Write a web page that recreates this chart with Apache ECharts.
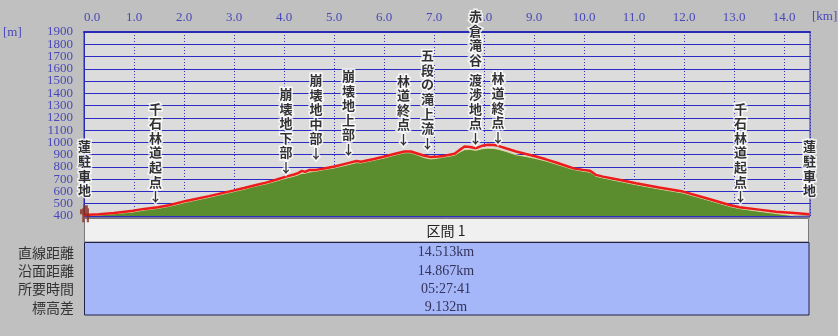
<!DOCTYPE html>
<html><head><meta charset="utf-8">
<script src="https://cdn.jsdelivr.net/npm/echarts@6/dist/echarts.min.js"></script>
<style>html,body{margin:0;padding:0;background:#c0c0c0;}#c{width:838px;height:336px;}</style>
</head><body><div id="c"></div>
<script>
// distance along the route [km]
const distKm = [0.00,0.30,0.60,0.98,1.20,1.48,1.70,2.04,2.50,2.98,3.20,3.40,3.64,3.84,4.04,4.20,4.28,4.36,4.42,4.50,4.64,4.80,5.01,5.28,5.45,5.48,5.54,5.80,6.01,6.20,6.41,6.54,6.68,6.81,6.94,7.08,7.20,7.31,7.41,7.50,7.61,7.72,7.84,7.96,8.08,8.20,8.28,8.45,8.64,8.84,9.04,9.24,9.44,9.62,9.78,9.98,10.12,10.18,10.24,10.38,10.70,11.04,11.50,11.98,12.45,12.91,13.11,13.50,13.84,14.20,14.51];
// GPS track elevation [m] (red line)
const trackElev = [408,415,425,443,458,472,488,523,562,607,628,648,672,695,721,738,749,768,760,774,776,788,803,831,848,856,842,865,885,905,926,926,908,891,880,885,890,899,907,935,967,963,953,972,981,978,972,950,926,905,885,862,836,812,790,776,768,752,735,721,695,667,632,599,545,490,471,452,435,425,415];
// terrain elevation [m] (green area)
const terrainElev = [402,408,418,432,448,462,478,512,552,597,618,640,662,684,708,725,735,748,748,758,765,778,792,818,835,838,832,855,873,895,915,915,895,875,865,872,880,888,895,918,940,942,935,948,953,950,945,925,899,885,868,848,823,800,780,765,757,742,724,710,683,655,620,587,533,478,460,438,420,402,400];
// waypoint annotations: text, km, elevation of the arrow tip
const annoText = ['蓮駐車地','千石林道起点↓','崩壊地下部↓','崩壊地中部↓','崩壊地上部↓','林道終点↓','五段の滝上流↓','赤倉滝谷 渡渉地点↓','林道終点↓','千石林道起点↓','蓮駐車地'];
const annoKm   = [0.01,1.43,4.04,4.64,5.29,6.39,6.87,7.83,8.28,13.13,14.51];
const annoElev = [550,502,739,854,886,968,936,976,985,502,550];
// start marker (hiker)
const startKm = 0.01, startElev = 418;
// axis ticks
const yMin = 400, yMax = 1900, yStep = 100;
const xMin = 0, xMax = 14.52, xStep = 1;
// summary table
const sectionTitle = '区間 1';
const statLabels = ['直線距離','沿面距離','所要時間','標高差'];
const statValues = ['14.513km','14.867km','05:27:41','9.132m'];

const AX = '#4848b8';
const CJK = '"Noto Sans CJK JP", sans-serif';
const SERIF = '"Liberation Serif", serif';

function vertical(t){
  return t.split('').map(ch => ch === ' ' ? '{g|\u3000}' : '{a|' + ch + '}').join('\n');
}

const chart = echarts.init(document.getElementById('c'));

const graphics = [
  {type:'text', left:3, top:26, style:{text:'[m]', fill:AX, font:'13px ' + SERIF}},
  {type:'text', left:812, top:10, style:{text:'[km]', fill:AX, font:'13px ' + SERIF}},
  {type:'line', shape:{x1:84, y1:216.5, x2:810, y2:216.5}, style:{stroke:'#2a2a70', lineWidth:2}},
  {type:'rect', shape:{x:84.5, y:218.5, width:724, height:23.5}, style:{fill:'#f0f0f0', stroke:'#7a7a7a', lineWidth:1}},
  {type:'rect', shape:{x:84.5, y:242.5, width:724.5, height:72.5}, style:{fill:'#a5b7f9', stroke:'#23234a', lineWidth:1}},
  {type:'text', x:446, y:230.5, style:{text:sectionTitle, fill:'#222', font:'14px ' + CJK, align:'center', verticalAlign:'middle'}}
];
statLabels.forEach((s, i) => {
  graphics.push({type:'text', x:74, y:252.7 + i * 18.2, style:{text:s, fill:'#333', font:'14px ' + CJK, align:'right', verticalAlign:'middle'}});
  graphics.push({type:'text', x:446, y:252.7 + i * 18.2, style:{text:statValues[i], fill:'#33335a', font:'14px ' + SERIF, align:'center', verticalAlign:'middle'}});
});

const yLabelStyle = {color:AX, fontFamily:SERIF, fontSize:13, margin:11, formatter:v => String(v)};

chart.setOption({
  backgroundColor:'#c0c0c0',
  animation:false,
  grid:{left:84, right:28, top:32, bottom:120, show:true, backgroundColor:'#dcdcdc', borderColor:'#3030b0', borderWidth:1},
  xAxis:{
    type:'value', position:'top', min:xMin, max:xMax, interval:xStep,
    axisLine:{show:true, lineStyle:{color:'#2a2ab8', width:2}},
    axisTick:{show:false},
    axisLabel:{color:AX, fontFamily:SERIF, fontSize:13, margin:8, showMaxLabel:false, alignMinLabel:'left',
      formatter:v => v.toFixed(1)},
    splitLine:{show:true, lineStyle:{color:'#3434b4', width:1, type:[1,2]}}
  },
  yAxis:[{
    type:'value', min:yMin, max:yMax, interval:yStep,
    axisLine:{show:true, lineStyle:{color:'#2a2ab8', width:1}},
    axisTick:{show:false},
    axisLabel:Object.assign({showMinLabel:false, showMaxLabel:false}, yLabelStyle),
    splitLine:{show:true, lineStyle:{color:'#2c2cc4', width:1}}
  },{
    type:'value', position:'left', min:yMin, max:yMax, interval:yMax - yMin,
    axisLine:{show:false}, axisTick:{show:false}, splitLine:{show:false},
    axisLabel:Object.assign({showMinLabel:true, showMaxLabel:true}, yLabelStyle)
  }],
  graphic:graphics,
  series:[
    {type:'line', data:distKm.map((k,i)=>[k, terrainElev[i]]), symbol:'none', z:2,
      lineStyle:{color:'#dcd8a0', width:1}, areaStyle:{color:'#5b8d2e', opacity:1, origin:'start'}},
    {type:'line', data:distKm.map((k,i)=>[k, trackElev[i]]), symbol:'none', z:3,
      lineStyle:{color:'#ee1b1b', width:2.5}},
    {type:'scatter', z:6, silent:true, symbol:'path://M3,0h4v3h-4z M2,3h6v7h-6z M0,4h2v5h-2z M2,10h2v7h-2z M6,10h2v7h-2z',
      symbolSize:[9,17], itemStyle:{color:'#8a2c1c'}, data:[[startKm, startElev]]},
    {type:'scatter', symbolSize:0, z:5, silent:true,
      data:annoKm.map((k,i)=>({value:[k, annoElev[i]], label:{formatter:vertical(annoText[i])}})),
      label:{show:true, position:'top', distance:0,
        rich:{
          a:{fontFamily:CJK, fontSize:13, fontWeight:'bold', lineHeight:14.6, color:'#000', textBorderColor:'#fff', textBorderWidth:3, align:'center'},
          g:{fontSize:4, lineHeight:5}
        }}}
  ]
});
</script></body></html>
